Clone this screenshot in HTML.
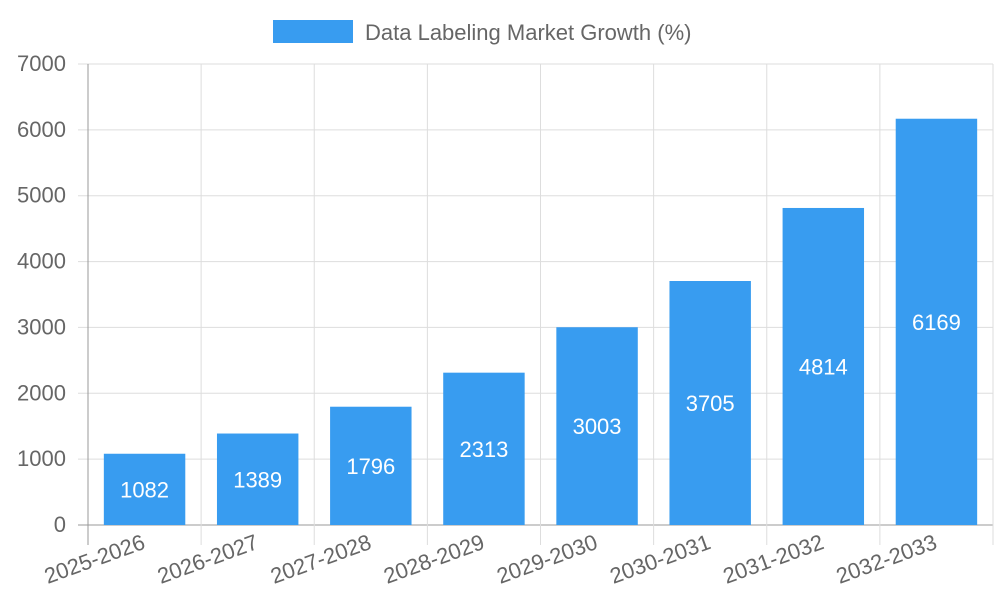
<!DOCTYPE html>
<html><head><meta charset="utf-8"><style>
body{margin:0;background:#fff;}
svg{font-family:"Liberation Sans",Arial,sans-serif;}
</style></head><body>
<svg id="chart" width="1000" height="600">
<g id="legend">
<rect x="273" y="20" width="80" height="23" fill="#389cf0"/>
<text x="365" y="40" font-size="22" fill="#666">Data Labeling Market Growth (%)</text>
</g>
<g id="grid"></g><g id="bars"></g><g id="axes"></g>
</svg>
<script>
const categories=["2025-2026","2026-2027","2027-2028","2028-2029","2029-2030","2030-2031","2031-2032","2032-2033"];
const values=[1082,1389,1796,2313,3003,3705,4814,6169];
const yTicks=[0,1000,2000,3000,4000,5000,6000,7000];
const L=88,R=993,T=64,B=525,yMax=7000;
const ns="http://www.w3.org/2000/svg";
const bw=(R-L)/categories.length;
const xs=i=>L+bw*i;
const ys=v=>B-(B-T)*v/yMax;
function mk(tag,attrs,parent,txt){const e=document.createElementNS(ns,tag);for(const k in attrs)e.setAttribute(k,attrs[k]);if(txt!==undefined)e.textContent=txt;document.getElementById(parent).appendChild(e);return e;}
yTicks.forEach(t=>{
 const g=mk('line',{x1:78,x2:R,y1:ys(t),y2:ys(t),stroke:t===0?'#999':'#ddd','stroke-width':1},'grid');
 
 
 const l=mk('text',{x:66,y:ys(t)+7,'text-anchor':'end','font-size':22,fill:'#666'},'axes',t);
 
 
});
for(let i=0;i<=categories.length;i++){
 const g=mk('line',{x1:xs(i),x2:xs(i),y1:T,y2:545,stroke:i===0?'#999':'#ddd','stroke-width':1},'grid');
 
 
}
categories.forEach((c,i)=>{
 const cx=xs(i)+bw/2,w=bw*0.72,v=values[i];
 const r=mk('rect',{x:cx-w/2,y:ys(v),width:w,height:B-ys(v),fill:'#389cf0'},'bars');
 
 
 const t=mk('text',{x:cx,y:(ys(v)+B)/2+8,'text-anchor':'middle','font-size':22,fill:'#fff'},'bars',v);
 
 
 const xl=mk('text',{x:cx+2,y:548,'text-anchor':'end','font-size':22,fill:'#666',transform:`rotate(-20 ${cx+2} 548)`},'axes',c);
 
 
});
</script>
</body></html>
